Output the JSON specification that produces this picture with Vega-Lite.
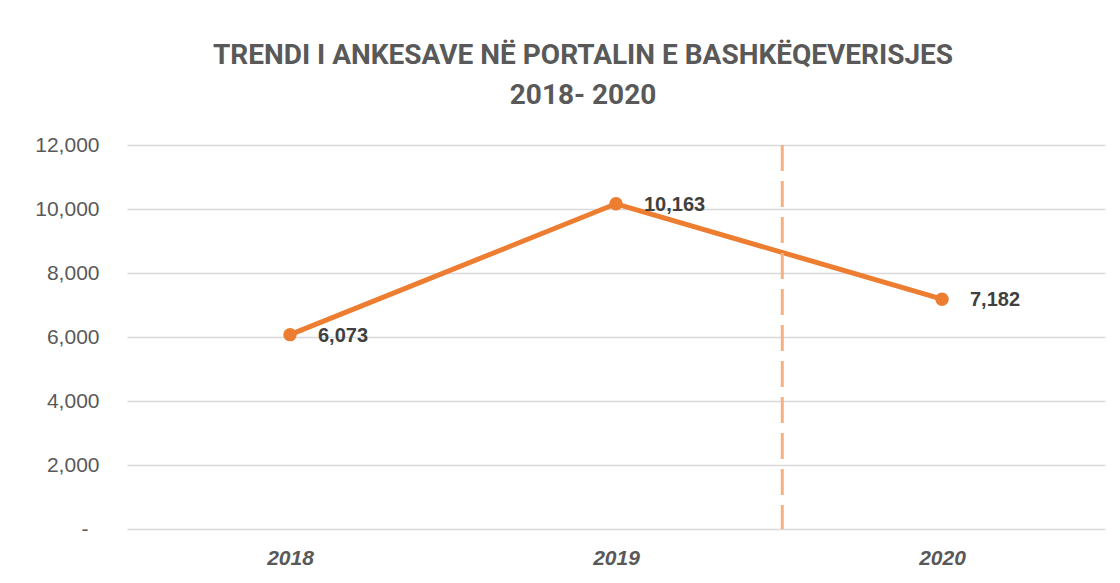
{
  "$schema": "https://vega.github.io/schema/vega-lite/v6.json",
  "width": 978,
  "height": 384,
  "autosize": {"type": "none"},
  "padding": {"left": 127, "top": 145, "right": 15, "bottom": 54},
  "background": "white",
  "config": {"view": {"stroke": null}},
  "title": {
    "text": ["TRENDI I ANKESAVE NË PORTALIN E  BASHKËQEVERISJES", "2018- 2020"],
    "font": "Roboto",
    "fontSize": 28,
    "fontWeight": "bold",
    "color": "#595959",
    "anchor": "middle",
    "dx": -33,
    "offset": 24,
    "lineHeight": 40
  },
  "datasets": {
    "main": [
      {"year": 2018, "value": 6073},
      {"year": 2019, "value": 10163},
      {"year": 2020, "value": 7182}
    ],
    "marker": [{"pos": 2019.51}]
  },
  "layer": [
    {
      "data": {"name": "main"},
      "mark": {"type": "line", "color": "#ED7D31", "strokeWidth": 5, "point": {"filled": true, "size": 180, "color": "#ED7D31"}},
      "encoding": {
        "x": {
          "field": "year", "type": "quantitative",
          "scale": {"domain": [2017.5, 2020.5], "nice": false, "zero": false},
          "axis": {
            "title": null, "values": [2018, 2019, 2020], "format": "d",
            "grid": false, "domain": false, "ticks": false, "tickSize": 0,
            "labelFont": "Liberation Sans", "labelFontSize": 21, "labelFontWeight": "bold", "labelFontStyle": "italic",
            "labelColor": "#595959", "labelPadding": 18
          }
        },
        "y": {
          "field": "value", "type": "quantitative",
          "scale": {"domain": [0, 12000], "nice": false},
          "axis": {
            "title": null, "values": [0, 2000, 4000, 6000, 8000, 10000, 12000],
            "labelExpr": "datum.value == 0 ? '-' : format(datum.value, ',')",
            "grid": true, "gridColor": "#D9D9D9", "gridWidth": 1.5,
            "domain": false, "ticks": false, "tickSize": 0,
            "labelFont": "Liberation Sans", "labelFontSize": 21, "labelColor": "#595959",
            "labelPadding": {"condition": {"test": "datum.value == 0", "value": 39}, "value": 28}
          }
        }
      }
    },
    {
      "data": {"name": "main"},
      "mark": {"type": "text", "align": "left", "baseline": "middle", "dx": 28, "dy": 1, "font": "Liberation Sans", "fontSize": 20, "fontWeight": "bold", "color": "#404040"},
      "encoding": {
        "x": {"field": "year", "type": "quantitative"},
        "y": {"field": "value", "type": "quantitative"},
        "text": {"field": "value", "type": "quantitative", "format": ","}
      }
    },
    {
      "data": {"name": "marker"},
      "mark": {"type": "rule", "color": "#F4B183", "strokeWidth": 3, "strokeDash": [26, 10]},
      "encoding": {
        "x": {"field": "pos", "type": "quantitative"}
      }
    }
  ]
}
